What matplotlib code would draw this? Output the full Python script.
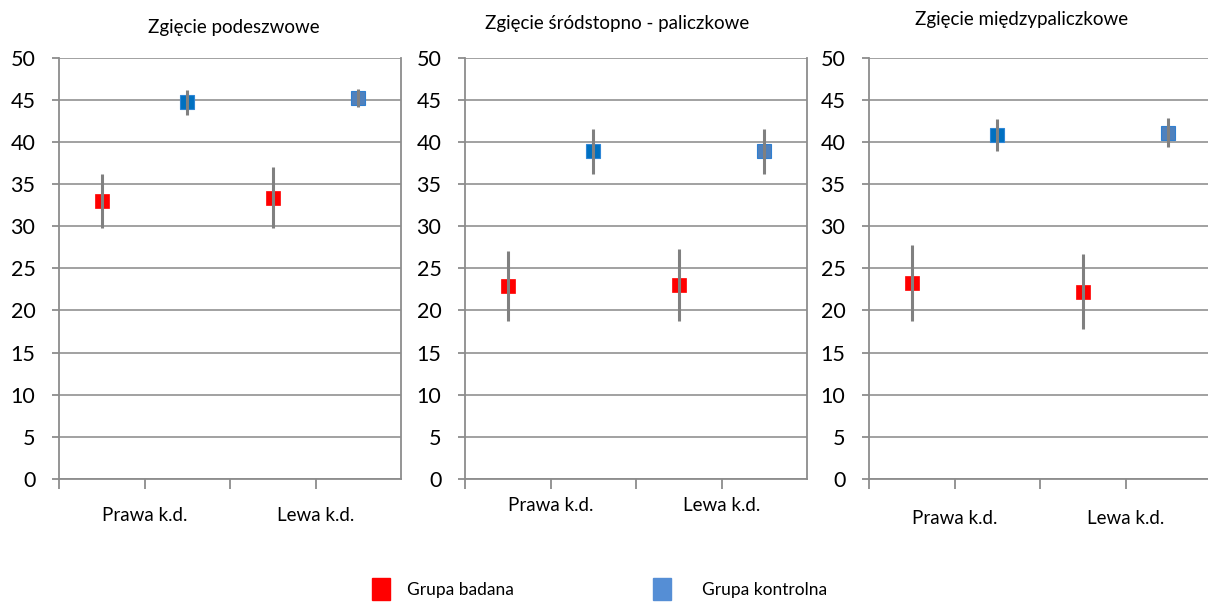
import matplotlib
matplotlib.use('Agg')
from matplotlib import pyplot as plt
from matplotlib.patches import Patch

plt.rcParams['font.family'] = ['Lato', 'DejaVu Sans']

# Data
panelTitles   = ['Zgięcie podeszwowe', 'Zgięcie śródstopno - paliczkowe', 'Zgięcie międzypaliczkowe']
sideLabels    = ['Prawa k.d.', 'Lewa k.d.']
groupNames    = ['Grupa badana', 'Grupa kontrolna']

# one pair per panel: [Prawa, Lewa]
badanaMean     = [[33.0, 33.4], [22.9, 23.0], [23.3, 22.2]]
badanaSd       = [[3.2, 3.65], [4.2, 4.3], [4.5, 4.45]]
kontrolnaMean  = [[44.7, 45.2], [38.9, 38.9], [40.8, 41.1]]
kontrolnaSd    = [[1.5, 1.1], [2.65, 2.65], [1.9, 1.7]]

yTicks = list(range(0, 55, 5))

W, H = 1208, 603
fig = plt.figure(figsize=(W/100, H/100), dpi=100)

# panel geometry in pixels: left edge, title centre x, title centre y, label pad
axLefts   = [59, 465, 869]
titleX    = [234, 617, 1022]
titleY    = [27, 23, 20]
labelPads = [13, 6, 15]
axWidth   = 342
axTop, axBottom = 57.7, 479

gridCol  = '#9a9a9a'
spineCol = '#8c8c8c'
errCol   = '#808080'
redCol   = '#ff0000'
blue1    = '#0070c0'
blue2    = '#4f81bd'
legBlue  = '#558ed5'

for k in range(3):
	ax = fig.add_axes([axLefts[k]/W, (H-axBottom)/H, axWidth/W, (axBottom-axTop)/H])
	xs_bad = [1, 3]
	xs_kon = [2, 4]

	ax.plot(xs_bad, badanaMean[k], linestyle='none', marker='s', markersize=9.5,
			markerfacecolor=redCol, markeredgecolor=redCol, markeredgewidth=0.5, zorder=3)
	ax.plot(xs_kon[0], kontrolnaMean[k][0], linestyle='none', marker='s', markersize=9.5,
			markerfacecolor=blue1, markeredgecolor='#2f86d6', markeredgewidth=0.8, zorder=3)
	ax.plot(xs_kon[1], kontrolnaMean[k][1], linestyle='none', marker='s', markersize=9.5,
			markerfacecolor=blue2, markeredgecolor='#2f7fd0', markeredgewidth=0.8, zorder=3)

	ax.errorbar(xs_bad, badanaMean[k], yerr=badanaSd[k], fmt='none', ecolor=errCol,
				elinewidth=2.2, capsize=0, zorder=4)
	ax.errorbar(xs_kon, kontrolnaMean[k], yerr=kontrolnaSd[k], fmt='none', ecolor=errCol,
				elinewidth=2.2, capsize=0, zorder=4)

	ax.set_xlim(0.5, 4.5)
	ax.set_ylim(0, 50)
	ax.set_yticks(yTicks)
	ax.set_xticks([0.5, 1.5, 2.5, 3.5])
	ax.set_xticklabels(['', sideLabels[0], '', sideLabels[1]])

	ax.yaxis.grid(True, color=gridCol, linewidth=1.3, linestyle='-')
	ax.set_axisbelow(True)

	for s in ['left', 'right', 'bottom']:
		ax.spines[s].set_color(spineCol)
		ax.spines[s].set_linewidth(1.3)
	ax.spines['top'].set_visible(False)

	ax.tick_params(axis='y', length=5, width=1.3, color=spineCol, pad=12, labelsize=15.5,
				   labelcolor='black')
	ax.tick_params(axis='x', length=7, width=1.3, color=spineCol, pad=labelPads[k],
				   labelsize=13.5, labelcolor='black')

	fig.text(titleX[k]/W, 1 - titleY[k]/H, panelTitles[k], ha='center', va='center', fontsize=13.5)

# two legend entries placed separately (gap after the square differs in the original)
legSpecs = [(redCol, groupNames[0], 372, 0.95), (legBlue, groupNames[1], 653, 1.75)]
for col, name, xLeft, pad in legSpecs:
	leg = fig.legend([Patch(facecolor=col, edgecolor=col)], [name], loc='upper left',
					 bbox_to_anchor=(xLeft/W, 1 - 578/H), frameon=False, fontsize=12.5,
					 borderpad=0, borderaxespad=0, handlelength=1.05, handleheight=1.6,
					 handletextpad=pad)

plt.savefig('out.png', dpi=100)
plt.close('all')
